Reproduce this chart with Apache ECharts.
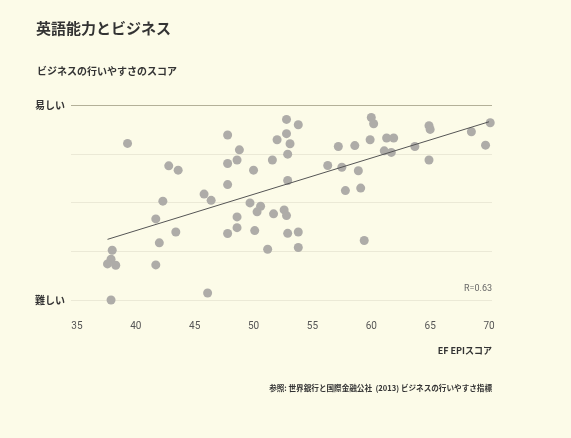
<!DOCTYPE html>
<html>
<head>
<meta charset="utf-8">
<script src="https://cdn.jsdelivr.net/npm/echarts@6/dist/echarts.min.js"></script>
<style>
	html,body{margin:0;padding:0;background:#fcfbe8;}
	#main{width:571px;height:438px;}
</style>
</head>
<body>
<div id="main"></div>
<script>
/*EF EPI スコア (x) と ビジネスの行いやすさ (y, 0=難しい 100=易しい)*/
var epiScore = [
	39.3, 42.8, 43.6, 42.3, 45.8, 46.4, 41.7, 43.4, 42.0, 38.0, 37.9,
	37.6, 38.3, 41.7, 46.1, 37.9, 52.8, 53.8, 47.8, 52.8, 52.0, 53.1,
	48.8, 52.9, 48.6, 47.8, 51.6, 50.0, 52.9, 47.8, 49.7, 50.6, 50.3,
	52.6, 52.8, 51.7, 48.6, 48.6, 47.8, 50.1, 52.9, 53.8, 51.2, 53.8,
	57.2, 58.6, 56.3, 57.5, 57.8, 60.0, 60.2, 59.9, 61.3, 61.9, 61.1,
	61.7, 63.7, 64.9, 65.0, 64.9, 58.9, 59.1, 68.5, 70.1, 69.7, 59.4
];
var easeScore = [
	80.3, 68.8, 66.6, 50.7, 54.3, 51.1, 41.6, 34.9, 29.3, 25.5, 20.9,
	18.5, 17.8, 18.0, 3.6, 0.0, 92.6, 89.9, 84.6, 85.3, 82.2, 80.1,
	77.0, 74.8, 71.8, 70.0, 71.8, 66.6, 61.3, 59.2, 49.8, 48.1, 45.2,
	46.2, 43.3, 44.2, 42.6, 37.1, 34.1, 35.6, 34.2, 34.9, 26.0, 26.9,
	78.7, 79.2, 69.0, 68.1, 56.1, 93.6, 90.4, 82.2, 83.1, 83.1, 76.5,
	75.7, 78.7, 89.4, 87.5, 71.8, 66.3, 57.4, 86.3, 90.9, 79.4, 30.5
];
/*回帰直線の両端*/
var trendX = [37.6, 70.0];
var trendY = [31.1, 91.4];
var xTickLabels = [35, 40, 45, 50, 55, 60, 65, 70];
var yEndLabels = ['難しい', '易しい'];

var pointData = [];
for (var i = 0; i < epiScore.length; i++) {
	pointData.push([epiScore[i], easeScore[i]]);
}
var trendData = [];
for (var j = 0; j < trendX.length; j++) {
	trendData.push([trendX[j], trendY[j]]);
}

var fontCJK = '"Noto Sans CJK JP", "Noto Sans", sans-serif';
var chart = echarts.init(document.getElementById('main'));
var option = {
	backgroundColor: '#fcfbe8',
	animation: false,
	title: [{
		text: '英語能力とビジネス',
		left: 36,
		top: 21,
		padding: 0,
		textStyle: { fontFamily: fontCJK, fontSize: 15, fontWeight: 'bold', color: '#333' }
	}, {
		text: 'ビジネスの行いやすさのスコア',
		left: 37,
		top: 66,
		padding: 0,
		textStyle: { fontFamily: fontCJK, fontSize: 10, fontWeight: 'bold', color: '#333' }
	}],
	grid: {
		left: 71,
		right: 79,
		top: 105,
		bottom: 138
	},
	xAxis: {
		type: 'value',
		min: 34.5,
		max: 70.25,
		interval: 0.25,
		axisLine: { show: false },
		axisTick: { show: false },
		splitLine: { show: false },
		axisLabel: {
			interval: 0,
			margin: 21,
			color: '#555',
			fontFamily: 'Roboto, sans-serif',
			fontSize: 10,
			formatter: function (v) {
				for (var k = 0; k < xTickLabels.length; k++) {
					if (Math.abs(v - xTickLabels[k]) < 1e-6) {
						return String(xTickLabels[k]);
					}
				}
				return '';
			}
		}
	},
	yAxis: {
		type: 'value',
		min: 0,
		max: 100,
		interval: 25,
		axisLine: { show: false },
		axisTick: { show: false },
		splitLine: {
			show: true,
			lineStyle: {
				color: ['#ebe9d6', '#ebe9d6', '#ebe9d6', '#ebe9d6', '#b3b098'],
				width: 1
			}
		},
		axisLabel: {
			margin: 6,
			color: '#333',
			fontFamily: fontCJK,
			fontSize: 10,
			fontWeight: 'bold',
			formatter: function (v) {
				if (v === 0) return yEndLabels[0];
				if (v === 100) return yEndLabels[1];
				return '';
			}
		}
	},
	series: [{
		type: 'scatter',
		data: pointData,
		symbolSize: 9,
		clip: false,
		itemStyle: { color: '#aeaca8', opacity: 1 },
		z: 2
	}, {
		type: 'line',
		data: trendData,
		symbol: 'none',
		lineStyle: { color: '#555', width: 1 },
		z: 3
	}],
	graphic: [{
		type: 'text',
		right: 79,
		top: 284,
		style: { text: 'R=0.63', fill: '#666', font: '9px Roboto, sans-serif' }
	}, {
		type: 'text',
		right: 79,
		top: 346,
		style: { text: 'EF EPIスコア', fill: '#333', font: 'bold 9px ' + fontCJK }
	}, {
		type: 'text',
		right: 79,
		top: 384,
		style: { text: '参照: 世界銀行と国際金融公社  (2013) ビジネスの行いやすさ指標', fill: '#333', font: 'bold 7.6px ' + fontCJK }
	}]
};
chart.setOption(option);
</script>
</body>
</html>
